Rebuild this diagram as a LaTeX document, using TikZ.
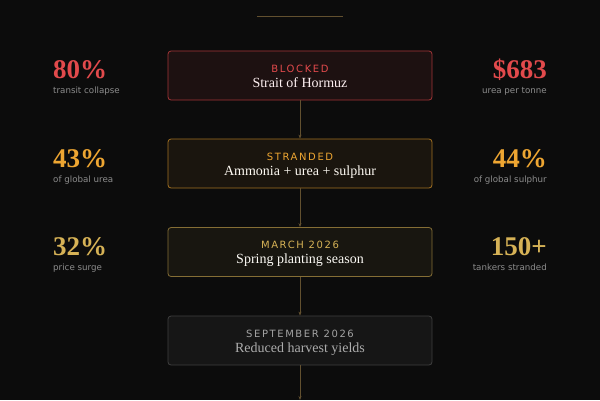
\documentclass[tikz,border=0pt]{standalone}
\usepackage{fontspec}
\setmainfont{Liberation Serif}
\newfontfamily\capfont{DejaVu Sans}
\newfontfamily\lblfont[LetterSpace=16]{DejaVu Sans}
\usetikzlibrary{arrows.meta}
\definecolor{bg}{HTML}{0C0C0C}
\definecolor{cred}{HTML}{E24A4C}
\definecolor{corange}{HTML}{EEA632}
\definecolor{cgold}{HTML}{D6B256}
\definecolor{cgrey}{HTML}{8C8C8C}
\definecolor{arrowc}{HTML}{62502F}
\tikzset{
  box/.style={draw, rounded corners=3pt, line width=0.8pt, minimum width=264pt, minimum height=49pt, inner sep=0pt},
  lbl/.style={anchor=base, font=\lblfont\fontsize{10}{12}\selectfont, inner sep=0pt},
  ttl/.style={anchor=base, font=\fontsize{14}{16}\selectfont, inner sep=0pt},
  bignum/.style={font=\bfseries\fontsize{27}{29}\selectfont, inner sep=0pt},
  capt/.style={font=\capfont\fontsize{8.7}{10}\selectfont, text=cgrey, inner sep=0pt},
  conn/.style={draw=arrowc, line width=0.6pt, -{Stealth[length=4pt,width=3pt]}}
}
\begin{document}
\begin{tikzpicture}[x=1pt,y=-1pt]
\fill[bg] (0,0) rectangle (600,400);
\useasboundingbox (0,0) rectangle (600,400);
\draw[arrowc, line width=0.8pt] (257,16) -- (343,16);
% boxes
\node[box, draw=cred!72!black, fill=cred!8!bg] (b1) at (300,75.5) {};
\node[box, draw=corange!68!black, fill=corange!6!bg] (b2) at (300,163.5) {};
\node[box, draw=cgold!62!black, fill=cgold!6!bg] (b3) at (300,252) {};
\node[box, draw=white!21!bg, fill=white!4!bg] (b4) at (300,340.5) {};
% box texts
\node[lbl, text=cred] (l1) at (300,72) {BLOCKED};
\node[ttl, text=white!92!cred] (t1) at (300,87) {Strait of Hormuz};
\node[lbl, text=corange] (l2) at (300,160) {STRANDED};
\node[ttl, text=white!94!corange] (t2) at (300,175) {Ammonia + urea + sulphur};
\node[lbl, text=cgold] (l3) at (300,248) {MARCH 2026};
\node[ttl, text=white!94!cgold] (t3) at (300,263) {Spring planting season};
\node[lbl, text=white!62!bg] (l4) at (300,337) {SEPTEMBER 2026};
\node[ttl, text=white!66!bg] (t4) at (300,352) {Reduced harvest yields};
% connectors
\coordinate (end) at (300,400);
\draw[conn] (b1.south) -- (b2.north);
\draw[conn] (b2.south) -- (b3.north);
\draw[conn] (b3.south) -- (b4.north);
\draw[conn] (b4.south) -- (end);
% left stats
\node[bignum, anchor=base west, text=cred] (n1) at (53,78) {80\%};
\node[capt, anchor=base west] (c1) at (53,93) {transit collapse};
\node[bignum, anchor=base west, text=corange] (n2) at (53,167) {43\%};
\node[capt, anchor=base west] (c2) at (53,182) {of global urea};
\node[bignum, anchor=base west, text=cgold] (n3) at (53,255) {32\%};
\node[capt, anchor=base west] (c3) at (53,270) {price surge};
% right stats
\node[bignum, anchor=base east, text=cred] (n4) at (547,78) {\$683};
\node[capt, anchor=base east] (c4) at (547,93) {urea per tonne};
\node[bignum, anchor=base east, text=corange] (n5) at (547,167) {44\%};
\node[capt, anchor=base east] (c5) at (547,182) {of global sulphur};
\node[bignum, anchor=base east, text=cgold] (n6) at (547,255) {150+};
\node[capt, anchor=base east] (c6) at (547,270) {tankers stranded};
\end{tikzpicture}
\end{document}
